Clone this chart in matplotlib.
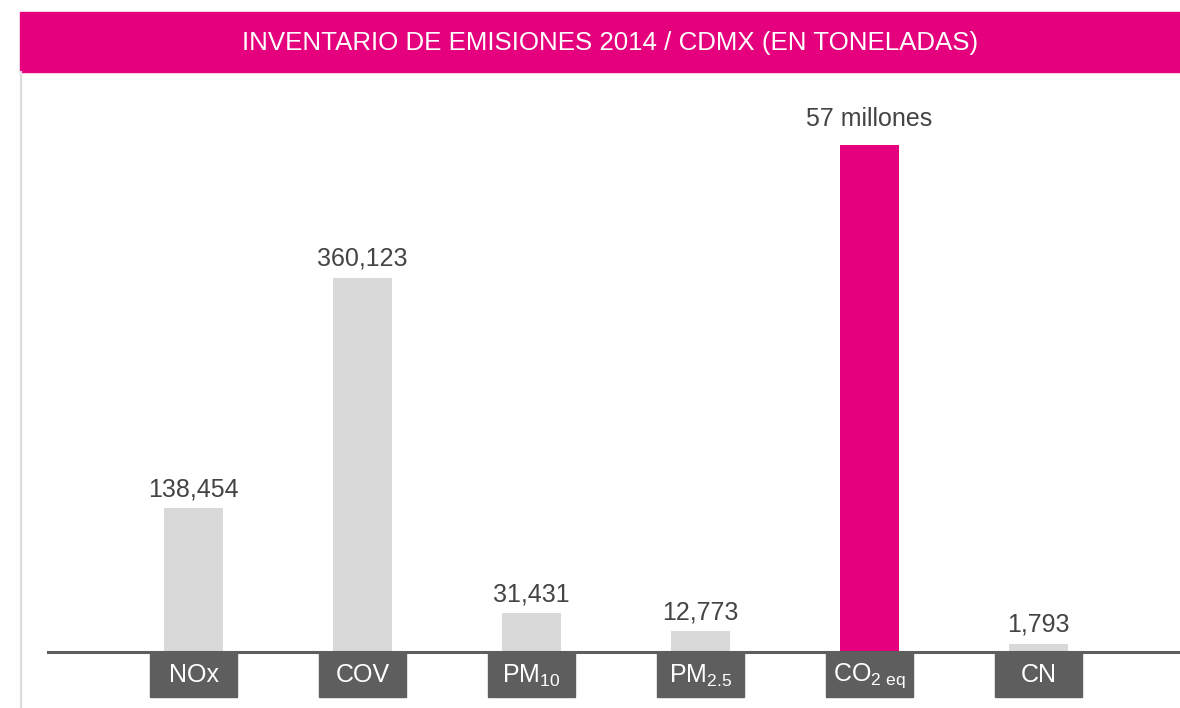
import matplotlib
matplotlib.use("Agg")
import matplotlib.pyplot as plt
from matplotlib.patches import Rectangle
from matplotlib.lines import Line2D

plt.rcParams['font.family'] = ['Liberation Sans', 'DejaVu Sans']
plt.rcParams['mathtext.fontset'] = 'custom'
plt.rcParams['mathtext.rm'] = 'Liberation Sans'
plt.rcParams['mathtext.it'] = 'Liberation Sans'

# data
categories = ['NOx', 'COV', r'PM$_{\mathrm{10}}$', r'PM$_{\mathrm{2.5}}$', r'CO$_{\mathrm{2\ eq}}$', 'CN']
value_labels = ['138,454', '360,123', '31,431', '12,773', '57 millones', '1,793']
# drawn bar heights (tons at the chart scale; CO2 is cut, tiny ones get a minimum)
bar_heights = [138454, 362000, 36800, 19400, 490000, 7700]
highlight = [False, False, False, False, True, False]
title = 'INVENTARIO DE EMISIONES 2014 / CDMX (EN TONELADAS)'

MAGENTA = '#e5007e'
GREY_BAR = '#d9d9d9'
DARK = '#5e5e5e'
TEXT = '#444444'

W, H = 1180, 708
fig = plt.figure(figsize=(W / 100, H / 100), dpi=100)

# banner
fig.patches.append(Rectangle((20 / W, 1 - 72 / H), 1 - 20 / W, 60 / H,
                             transform=fig.transFigure, color=MAGENTA, zorder=0))
fig.text(610 / W, 1 - 43 / H, title, color='white', fontsize=18.6,
         ha='center', va='center')
# left grey rule
fig.lines.append(Line2D([21 / W, 21 / W], [0, 1 - 72 / H], transform=fig.transFigure,
                        color='#dddddd', linewidth=1.6))

# main axes: 0 tons at pixel row 651.5, 968 tons per pixel
tpp = 968
ax = fig.add_axes([47 / W, 0, 1 - 47 / W, 1 - 72 / H])
ax.set_xlim(-0.867, 5.837)
ax.set_ylim(-56.5 * tpp, (651.5 - 72) * tpp)
ax.axis('off')

x = list(range(len(categories)))
colors = [MAGENTA if h else GREY_BAR for h in highlight]
ax.bar(x, bar_heights, width=0.35, color=colors, zorder=2)
ax.axhline(0, color=DARK, linewidth=2.2, zorder=3)

label_gap = [12, 12, 12, 12, 19, 12]
for i, (h, lab) in enumerate(zip(bar_heights, value_labels)):
    ax.annotate(lab, (i, h), xytext=(0, label_gap[i] * 0.72), textcoords='offset points',
                ha='center', va='baseline', fontsize=18, color=TEXT)

for i, cat in enumerate(categories):
    ax.add_patch(Rectangle((i - 0.26, -45.5 * tpp), 0.52, 45.5 * tpp,
                           color=DARK, zorder=2))
    ax.text(i, -24 * tpp, cat, ha='center', va='center', fontsize=18,
            color='white', zorder=4)

fig.savefig('out.png', dpi=100)
